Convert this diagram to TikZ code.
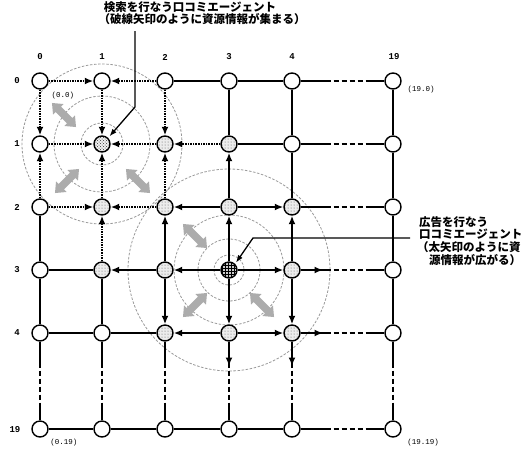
\documentclass[tikz,border=0pt]{standalone}
\usepackage{fontspec}
\newfontfamily\jp{Noto Sans CJK JP}
\newfontfamily\mono{Liberation Mono}
\usetikzlibrary{arrows.meta,patterns}
\pgfdeclarelayer{back}
\pgfdeclarelayer{bg}
\pgfsetlayers{back,bg,main}
\begin{document}
\begin{tikzpicture}[x=1pt,y=-1pt,
  gnode/.style={circle,draw,line width=1.4pt,minimum size=16pt,inner sep=0pt,fill=white},
  dotn/.style={preaction={fill=gray!15},pattern=dots,pattern color=black!65},
  srchn/.style={preaction={fill=gray!12},pattern=crosshatch dots,pattern color=black!80},
  advn/.style={preaction={fill=gray!40},pattern=grid,pattern color=black},
  thin/.style={line width=1.3pt},
  hbroken/.style={line width=1.3pt,dash pattern=on 30pt off 3pt on 5pt off 3pt on 5pt off 3pt on 5pt off 3pt on 5pt off 3pt on 100pt},
  vbroken/.style={line width=1.3pt,dash pattern=on 26pt off 3pt on 5pt off 3pt on 5pt off 3pt on 5pt off 3pt on 5pt off 3pt on 100pt},
  thk/.style={line width=2.3pt,-{Latex[length=8.5pt,width=7pt]}},
  dotarr/.style={line width=2.6pt,dash pattern=on 1.6pt off 1pt,-{Latex[length=8.5pt,width=7pt]}},
  ptr/.style={line width=1.3pt,-{Latex[length=7.5pt,width=5.5pt]}},
  ring/.style={draw=gray!80,line width=0.8pt,dash pattern=on 2.5pt off 1.6pt},
  jp/.style={font=\jp\bfseries\fontsize{11.5}{13}\selectfont,inner sep=0pt},
  lab/.style={font=\mono\bfseries\fontsize{9}{10}\selectfont,inner sep=0pt},
  clab/.style={font=\mono\fontsize{7.5}{8}\selectfont,inner sep=0pt},
  s1-1/.style={srchn},
  s3-3/.style={advn},
  s2-1/.style={dotn}, s3-1/.style={dotn},
  s1-2/.style={dotn}, s2-2/.style={dotn}, s3-2/.style={dotn}, s4-2/.style={dotn},
  s1-3/.style={dotn}, s2-3/.style={dotn}, s4-3/.style={dotn},
  s2-4/.style={dotn}, s3-4/.style={dotn}, s4-4/.style={dotn}
]
\useasboundingbox (0,0) rectangle (524,451);
\begin{pgfonlayer}{back}
  \fill[white] (0,0) rectangle (524,451);
\end{pgfonlayer}

% nodes
\foreach \c/\x in {0/40,1/102,2/165,3/229,4/292,19/393}{
  \foreach \r/\y in {0/81,1/144,2/207,3/270,4/333,19/429}{
    \node[gnode,s\c-\r/.try] (n\c-\r) at (\x,\y) {};
  }
}

% labels
\foreach \c/\x in {0/40,1/102,2/165,3/229,4/292,19/394}
  \node[lab] (cl\c) at (\x,57) {\c};
\foreach \r/\y in {0/81,1/144,2/207,3/270,4/333}
  \node[lab] (rl\r) at (17,\y) {\r};
\node[lab] (rl19) at (15,430) {19};
\node[clab] (p00) at (63,96) {(0.0)};
\node[clab] (p190) at (421,90) {(19.0)};
\node[clab] (p019) at (64,443) {(0.19)};
\node[clab] (p1919) at (423,443) {(19.19)};

% rings and grey arrows
\begin{pgfonlayer}{bg}
  \foreach \rad in {21,48,80} \path[ring] (n1-1) circle (\rad);
  \foreach \rad in {15,31,55,101} \path[ring] (n3-3) circle (\rad);
  \foreach \px/\py/\ang in {64/115/-45, 67/181/45, 138/181/-45, 195/236/-45, 195/305/45, 262/305/-45}{
    \begin{scope}[shift={(\px,\py)},rotate=\ang]
      \fill[gray!65] (17,0) -- (8,7.5) -- (8,3.8) -- (-8,3.8) -- (-8,7.5) -- (-17,0)
        -- (-8,-7.5) -- (-8,-3.8) -- (8,-3.8) -- (8,-7.5) -- cycle;
    \end{scope}
  }
\end{pgfonlayer}

% plain grid edges
\foreach \a/\b in {2-0/3-0,3-0/4-0,3-1/4-1,0-3/1-3,0-4/1-4,1-4/2-4,
  0-19/1-19,1-19/2-19,2-19/3-19,3-19/4-19,
  0-2/0-3,0-3/0-4,1-3/1-4,3-0/3-1,4-0/4-1,4-1/4-2,
  19-0/19-1,19-1/19-2,19-2/19-3,19-3/19-4}
  \draw[thin] (n\a) -- (n\b);
\foreach \r in {0,1,2,3,4,19}
  \draw[hbroken] (n4-\r) -- (n19-\r);
\foreach \c in {0,1,2,3,4,19}
  \draw[vbroken] (n\c-4) -- (n\c-19);

% search: dotted arrows converging
\foreach \a/\b in {0-0/1-0,2-0/1-0,1-0/1-1,0-0/0-1,2-0/2-1,0-1/1-1,2-1/1-1,1-2/1-1,
  0-2/0-1,2-2/2-1,0-2/1-2,2-2/1-2,1-3/1-2,3-1/2-1}
  \draw[dotarr] (n\a) -- (n\b);

% advertising: thick arrows spreading
\foreach \a/\b in {3-3/3-2,3-3/2-3,3-3/4-3,3-3/3-4,3-2/2-2,3-2/4-2,3-2/3-1,
  2-3/2-2,2-3/1-3,2-3/2-4,4-3/4-2,4-3/4-4,3-4/2-4,3-4/4-4}
  \draw[thk] (n\a) -- (n\b);
\coordinate (r3) at (323,270);
\coordinate (r4) at (323,333);
\coordinate (d3) at (229,366);
\coordinate (d4) at (292,366);
\draw[thk] (n4-3) -- (r3);
\draw[thk] (n4-4) -- (r4);
\draw[thk] (n3-4) -- (d3);
\draw[thk] (n4-4) -- (d4);

% titles and pointers
\node[jp] (t1) at (190,7) {検索を行なう口コミエージェント};
\node[jp] (t2) at (202,19.5) {（破線矢印のように資源情報が集まる）};
\coordinate (tp) at (135,31);
\coordinate (tb) at (135,107);
\draw[ptr,shorten >=2pt] (tp) -- (tb) -- (n1-1.north east);

\node[jp,anchor=west] (a1) at (419,222) {広告を行なう};
\node[jp,anchor=west] (a2) at (419,234.5) {口コミエージェント};
\node[jp,anchor=west] (a3) at (417,247.5) {（太矢印のように資};
\node[jp,anchor=west] (a4) at (429,260.5) {源情報が広がる）};
\coordinate (ap) at (410,238);
\coordinate (ab) at (253,238);
\draw[ptr,shorten >=1.5pt] (ap) -- (ab) -- (n3-3.north east);
\end{tikzpicture}
\end{document}
